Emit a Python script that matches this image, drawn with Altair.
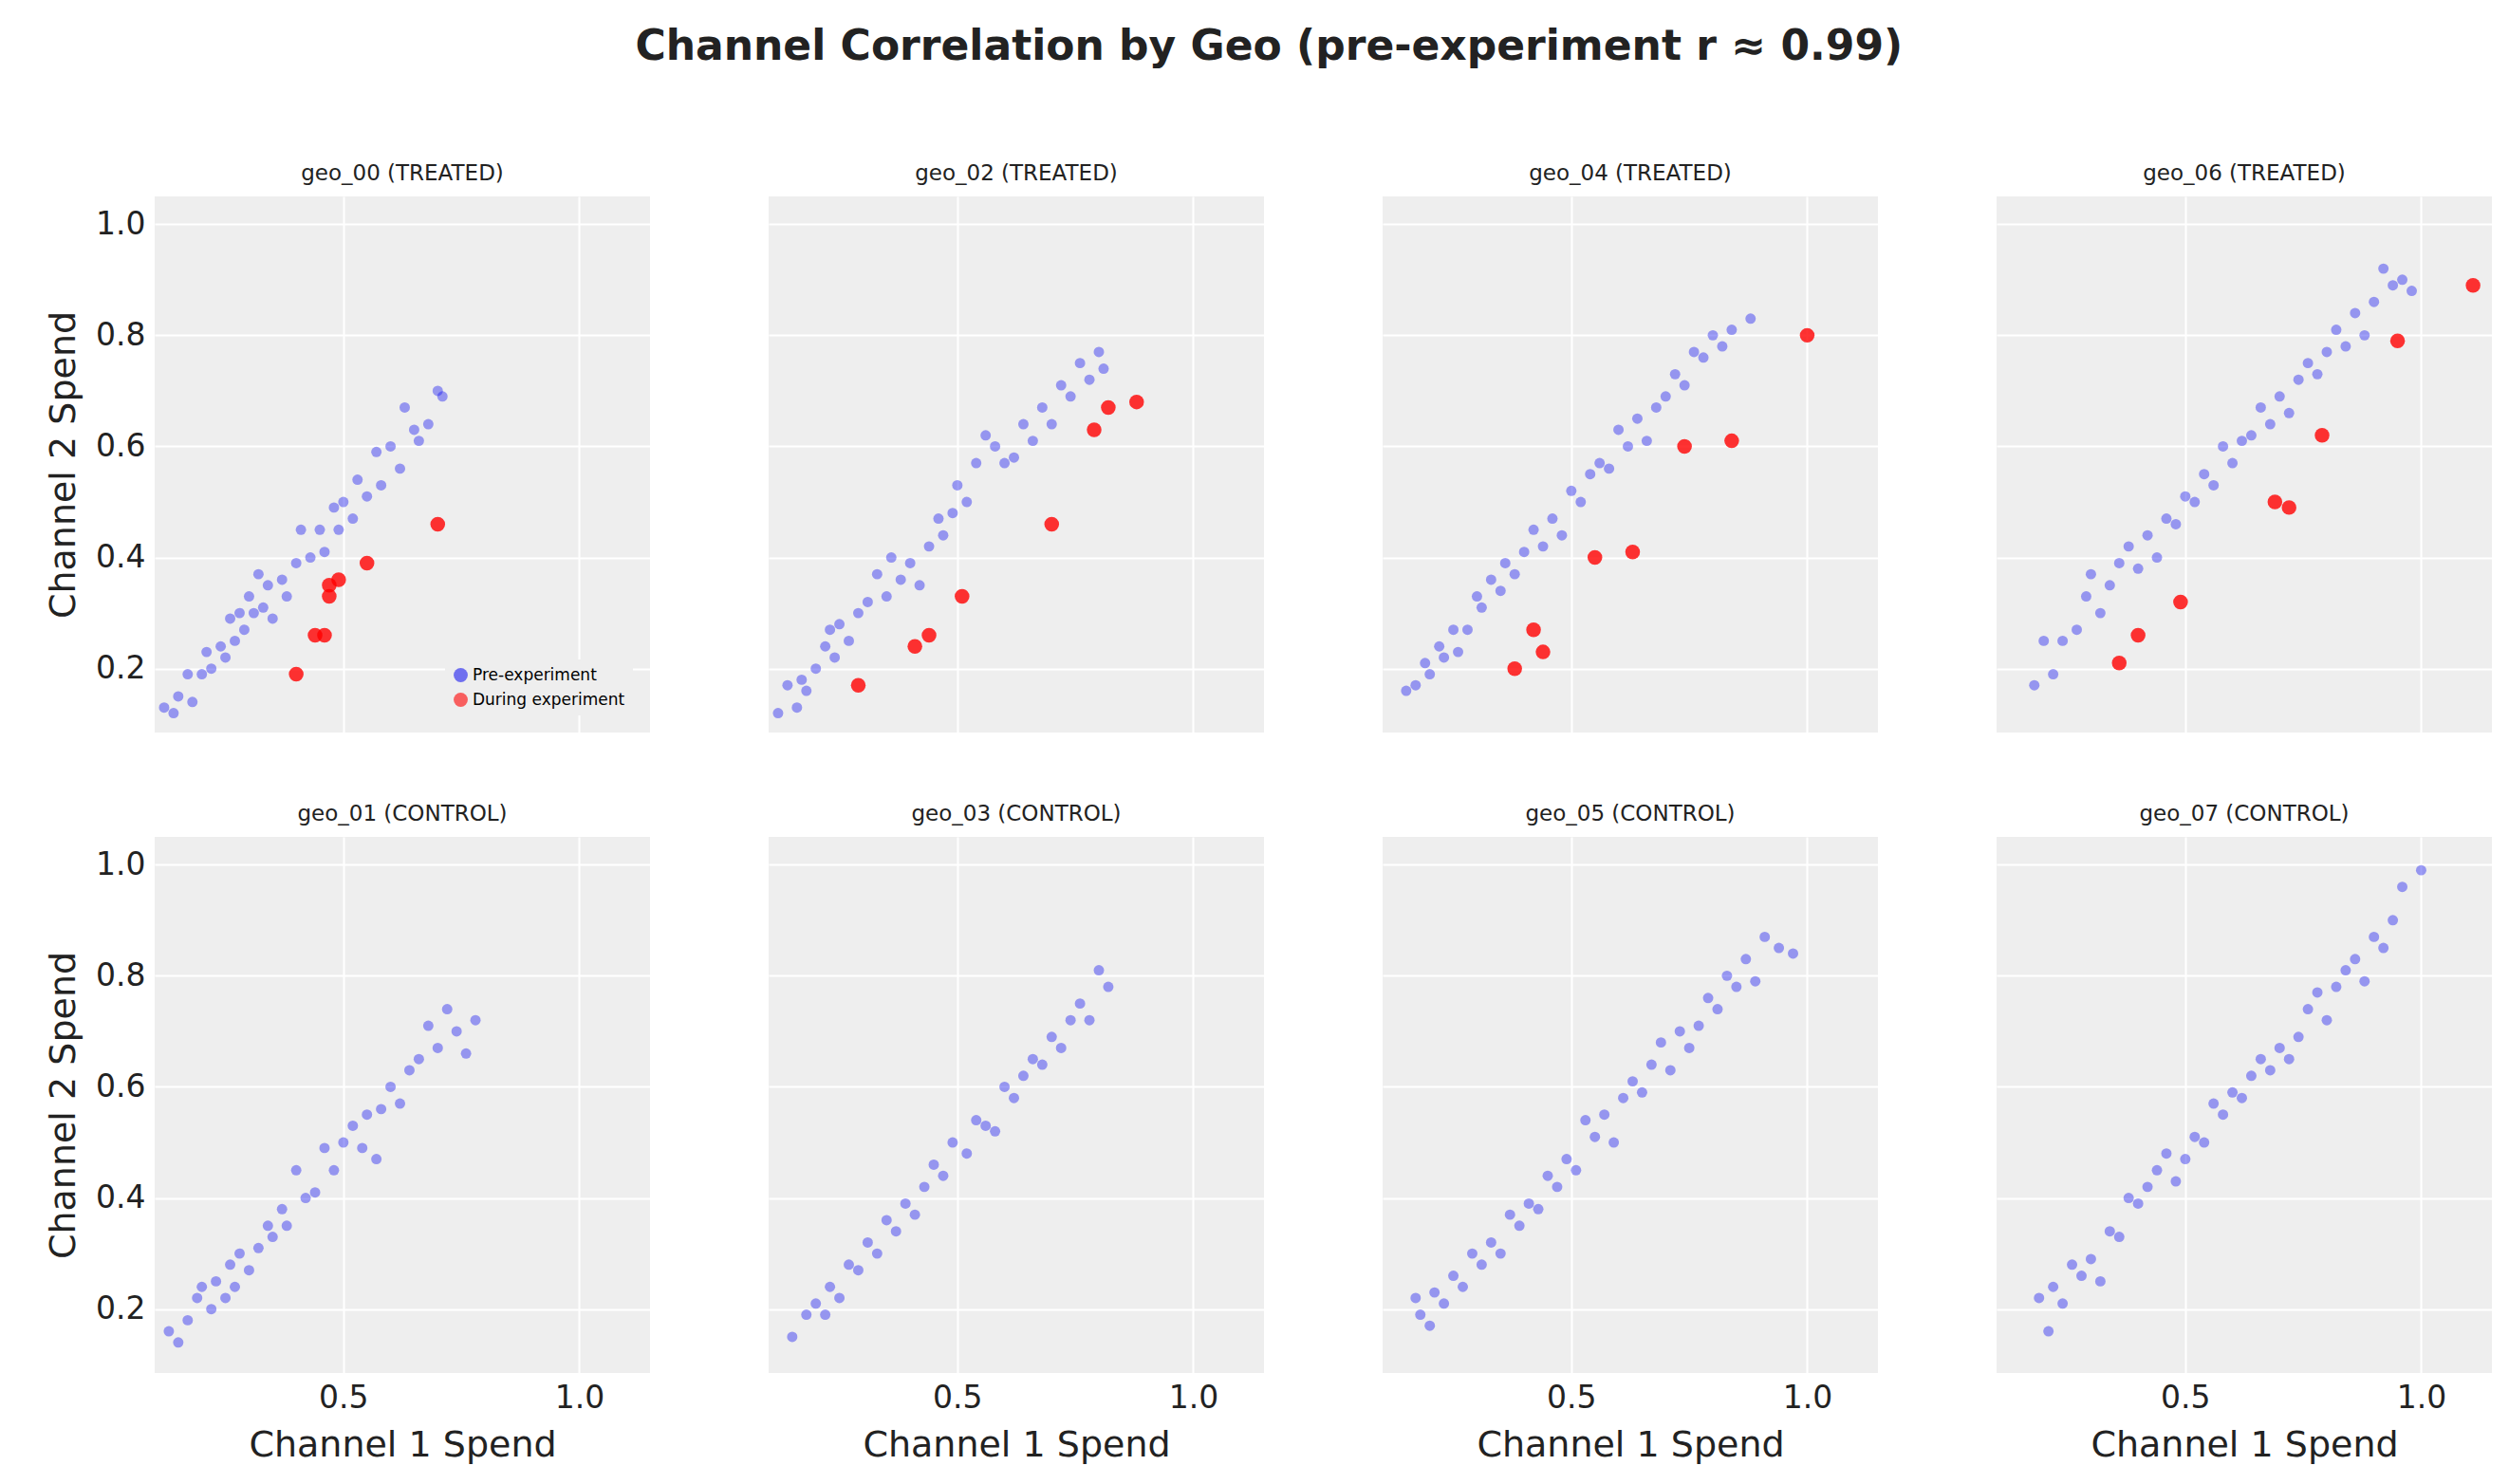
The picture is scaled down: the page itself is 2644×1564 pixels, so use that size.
import altair as alt
import pandas as pd

# pre-experiment points per geo (channel 1 spend, channel 2 spend)
geo_00_x = [0.12,0.14,0.15,0.17,0.18,0.20,0.21,0.22,0.24,0.25,0.26,0.27,0.28,0.29,0.30,0.31,0.32,0.33,0.34,0.35,0.37,0.38,0.40,0.41,0.43,0.45,0.46,0.48,0.49,0.50,0.52,0.53,0.55,0.57,0.58,0.60,0.62,0.63,0.65,0.66,0.68,0.70,0.71]
geo_00_y = [0.13,0.12,0.15,0.19,0.14,0.19,0.23,0.20,0.24,0.22,0.29,0.25,0.30,0.27,0.33,0.30,0.37,0.31,0.35,0.29,0.36,0.33,0.39,0.45,0.40,0.45,0.41,0.49,0.45,0.50,0.47,0.54,0.51,0.59,0.53,0.60,0.56,0.67,0.63,0.61,0.64,0.70,0.69]
geo_02_x = [0.12,0.14,0.16,0.17,0.18,0.20,0.22,0.23,0.24,0.25,0.27,0.29,0.31,0.33,0.35,0.36,0.38,0.40,0.42,0.44,0.46,0.47,0.49,0.50,0.52,0.54,0.56,0.58,0.60,0.62,0.64,0.66,0.68,0.70,0.72,0.74,0.76,0.78,0.80,0.81]
geo_02_y = [0.12,0.17,0.13,0.18,0.16,0.20,0.24,0.27,0.22,0.28,0.25,0.30,0.32,0.37,0.33,0.40,0.36,0.39,0.35,0.42,0.47,0.44,0.48,0.53,0.50,0.57,0.62,0.60,0.57,0.58,0.64,0.61,0.67,0.64,0.71,0.69,0.75,0.72,0.77,0.74]
geo_04_x = [0.15,0.17,0.19,0.20,0.22,0.23,0.25,0.26,0.28,0.30,0.31,0.33,0.35,0.36,0.38,0.40,0.42,0.44,0.46,0.48,0.50,0.52,0.54,0.56,0.58,0.60,0.62,0.64,0.66,0.68,0.70,0.72,0.74,0.76,0.78,0.80,0.82,0.84,0.88]
geo_04_y = [0.16,0.17,0.21,0.19,0.24,0.22,0.27,0.23,0.27,0.33,0.31,0.36,0.34,0.39,0.37,0.41,0.45,0.42,0.47,0.44,0.52,0.50,0.55,0.57,0.56,0.63,0.60,0.65,0.61,0.67,0.69,0.73,0.71,0.77,0.76,0.80,0.78,0.81,0.83]
geo_06_x = [0.18,0.20,0.22,0.24,0.27,0.29,0.30,0.32,0.34,0.36,0.38,0.40,0.42,0.44,0.46,0.48,0.50,0.52,0.54,0.56,0.58,0.60,0.62,0.64,0.66,0.68,0.70,0.72,0.74,0.76,0.78,0.80,0.82,0.84,0.86,0.88,0.90,0.92,0.94,0.96,0.98]
geo_06_y = [0.17,0.25,0.19,0.25,0.27,0.33,0.37,0.30,0.35,0.39,0.42,0.38,0.44,0.40,0.47,0.46,0.51,0.50,0.55,0.53,0.60,0.57,0.61,0.62,0.67,0.64,0.69,0.66,0.72,0.75,0.73,0.77,0.81,0.78,0.84,0.80,0.86,0.92,0.89,0.90,0.88]
geo_01_x = [0.13,0.15,0.17,0.19,0.20,0.22,0.23,0.25,0.26,0.27,0.28,0.30,0.32,0.34,0.35,0.37,0.38,0.40,0.42,0.44,0.46,0.48,0.50,0.52,0.54,0.55,0.57,0.58,0.60,0.62,0.64,0.66,0.68,0.70,0.72,0.74,0.76,0.78]
geo_01_y = [0.16,0.14,0.18,0.22,0.24,0.20,0.25,0.22,0.28,0.24,0.30,0.27,0.31,0.35,0.33,0.38,0.35,0.45,0.40,0.41,0.49,0.45,0.50,0.53,0.49,0.55,0.47,0.56,0.60,0.57,0.63,0.65,0.71,0.67,0.74,0.70,0.66,0.72]
geo_03_x = [0.15,0.18,0.20,0.22,0.23,0.25,0.27,0.29,0.31,0.33,0.35,0.37,0.39,0.41,0.43,0.45,0.47,0.49,0.52,0.54,0.56,0.58,0.60,0.62,0.64,0.66,0.68,0.70,0.72,0.74,0.76,0.78,0.80,0.82]
geo_03_y = [0.15,0.19,0.21,0.19,0.24,0.22,0.28,0.27,0.32,0.30,0.36,0.34,0.39,0.37,0.42,0.46,0.44,0.50,0.48,0.54,0.53,0.52,0.60,0.58,0.62,0.65,0.64,0.69,0.67,0.72,0.75,0.72,0.81,0.78]
geo_05_x = [0.17,0.18,0.20,0.21,0.23,0.25,0.27,0.29,0.31,0.33,0.35,0.37,0.39,0.41,0.43,0.45,0.47,0.49,0.51,0.53,0.55,0.57,0.59,0.61,0.63,0.65,0.67,0.69,0.71,0.73,0.75,0.77,0.79,0.81,0.83,0.85,0.87,0.89,0.91,0.94,0.97]
geo_05_y = [0.22,0.19,0.17,0.23,0.21,0.26,0.24,0.30,0.28,0.32,0.30,0.37,0.35,0.39,0.38,0.44,0.42,0.47,0.45,0.54,0.51,0.55,0.50,0.58,0.61,0.59,0.64,0.68,0.63,0.70,0.67,0.71,0.76,0.74,0.80,0.78,0.83,0.79,0.87,0.85,0.84]
geo_07_x = [0.19,0.21,0.22,0.24,0.26,0.28,0.30,0.32,0.34,0.36,0.38,0.40,0.42,0.44,0.46,0.48,0.50,0.52,0.54,0.56,0.58,0.60,0.62,0.64,0.66,0.68,0.70,0.72,0.74,0.76,0.78,0.80,0.82,0.84,0.86,0.88,0.90,0.92,0.94,0.96,1.00]
geo_07_y = [0.22,0.16,0.24,0.21,0.28,0.26,0.29,0.25,0.34,0.33,0.40,0.39,0.42,0.45,0.48,0.43,0.47,0.51,0.50,0.57,0.55,0.59,0.58,0.62,0.65,0.63,0.67,0.65,0.69,0.74,0.77,0.72,0.78,0.81,0.83,0.79,0.87,0.85,0.90,0.96,0.99]

# during-experiment points (treated geos only)
during_00_x = [0.40,0.44,0.46,0.47,0.47,0.49,0.55,0.70]
during_00_y = [0.19,0.26,0.26,0.35,0.33,0.36,0.39,0.46]
during_02_x = [0.29,0.41,0.44,0.51,0.70,0.79,0.82,0.88]
during_02_y = [0.17,0.24,0.26,0.33,0.46,0.63,0.67,0.68]
during_04_x = [0.38,0.42,0.44,0.55,0.63,0.74,0.84,1.00]
during_04_y = [0.20,0.27,0.23,0.40,0.41,0.60,0.61,0.80]
during_06_x = [0.36,0.40,0.49,0.69,0.72,0.79,0.95,1.11]
during_06_y = [0.21,0.26,0.32,0.50,0.49,0.62,0.79,0.89]

pre = {
    "geo_00": (geo_00_x, geo_00_y), "geo_02": (geo_02_x, geo_02_y),
    "geo_04": (geo_04_x, geo_04_y), "geo_06": (geo_06_x, geo_06_y),
    "geo_01": (geo_01_x, geo_01_y), "geo_03": (geo_03_x, geo_03_y),
    "geo_05": (geo_05_x, geo_05_y), "geo_07": (geo_07_x, geo_07_y),
}
during = {
    "geo_00": (during_00_x, during_00_y), "geo_02": (during_02_x, during_02_y),
    "geo_04": (during_04_x, during_04_y), "geo_06": (during_06_x, during_06_y),
}

FONT = "DejaVu Sans"
W, H = 522, 565
PHASES = ["Pre-experiment", "During experiment"]


def make_panel(geo, show_x, show_y, show_legend):
    treated = geo in during
    rows = [{"x": a, "y": b, "phase": PHASES[0]} for a, b in zip(*pre[geo])]
    if treated:
        rows += [{"x": a, "y": b, "phase": PHASES[1]} for a, b in zip(*during[geo])]
    df = pd.DataFrame(rows)

    legend = alt.Legend(
        title=None, orient="bottom-right", labelFontSize=17, labelFont=FONT, labelLimit=0,
        symbolSize=220, symbolOpacity=0.6, fillColor="#eeeeee", padding=8, rowPadding=8,
    ) if show_legend else None

    chart = alt.Chart(df).mark_circle().encode(
        x=alt.X("x:Q", scale=alt.Scale(domain=[0.10, 1.15], nice=False),
                axis=alt.Axis(values=[0.5, 1.0], format=".1f",
                              labels=show_x, title="Channel 1 Spend" if show_x else None,
                              ticks=False, domain=False)),
        y=alt.Y("y:Q", scale=alt.Scale(domain=[0.085, 1.05], nice=False),
                axis=alt.Axis(values=[0.2, 0.4, 0.6, 0.8, 1.0], format=".1f",
                              labels=show_y, title="Channel 2 Spend" if show_y else None,
                              ticks=False, domain=False)),
        color=alt.Color("phase:N", scale=alt.Scale(domain=PHASES, range=["#1a1af0", "#ff0000"]),
                        legend=legend),
        opacity=alt.Opacity("phase:N", scale=alt.Scale(domain=PHASES, range=[0.42, 0.8]),
                            legend=None),
        size=alt.Size("phase:N", scale=alt.Scale(domain=PHASES, range=[120, 240]), legend=None),
    ).properties(
        width=W, height=H,
        title=f"{geo} ({'TREATED' if treated else 'CONTROL'})",
    )
    return chart


top = alt.hconcat(*[make_panel(g, False, i == 0, i == 0)
                    for i, g in enumerate(["geo_00", "geo_02", "geo_04", "geo_06"])],
                  spacing=125).resolve_scale(color="independent")
bottom = alt.hconcat(*[make_panel(g, True, i == 0, False)
                       for i, g in enumerate(["geo_01", "geo_03", "geo_05", "geo_07"])],
                     spacing=125).resolve_scale(color="independent")

chart = alt.vconcat(top, bottom, spacing=75).resolve_scale(color="independent").properties(
    title=alt.TitleParams("Channel Correlation by Geo (pre-experiment r ≈ 0.99)",
                          fontSize=44, font=FONT, fontWeight="bold", anchor="middle",
                          offset=100),
    background="white",
    padding={"left": 40, "top": 20, "right": 10, "bottom": 10},
).configure_view(
    fill="#eeeeee", stroke=None,
).configure_axis(
    grid=True, gridColor="white", gridWidth=2,
    labelFont=FONT, titleFont=FONT, labelFontSize=33, titleFontSize=38,
    titleFontWeight="normal", labelColor="#222222", titleColor="#222222",
    labelPadding=10, titlePadding=14,
).configure_title(
    font=FONT, fontSize=23, fontWeight="normal", color="#222222", offset=12,
)

chart.save("out.html", embed_options={"renderer": "svg", "actions": False})
